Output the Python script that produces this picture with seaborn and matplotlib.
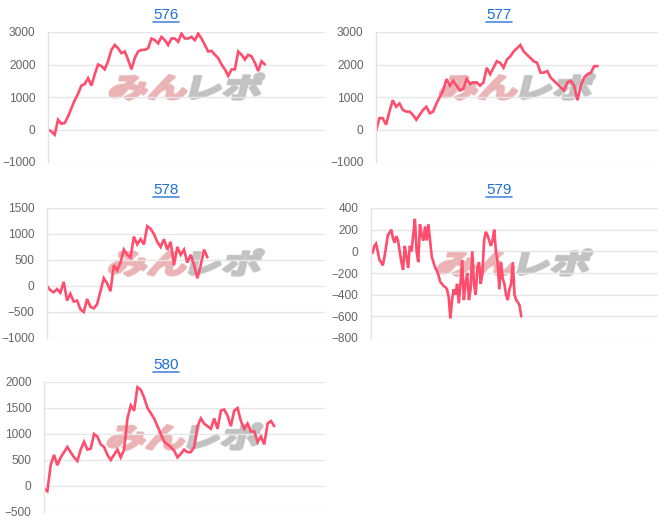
import numpy as np
import pandas as pd
import matplotlib
matplotlib.use("Agg")
import matplotlib.pyplot as plt
import seaborn as sns
from matplotlib.textpath import TextPath
from matplotlib.patches import PathPatch
from matplotlib.font_manager import FontProperties
from matplotlib.transforms import Affine2D
from matplotlib.lines import Line2D

# ---- data ----
titles = ["576", "577", "578", "579", "580"]

s576 = [0, -60, -160, 300, 180, 200, 400, 650, 900, 1100, 1350, 1400, 1580, 1350, 1700,
        2000, 1950, 1850, 2100, 2450, 2600, 2500, 2350, 2400, 2150, 1850, 2200, 2400, 2450,
        2450, 2500, 2800, 2750, 2650, 2850, 2750, 2600, 2800, 2800, 2700, 2950, 2800, 2800,
        2850, 2750, 2950, 2800, 2600, 2400, 2420, 2300, 2200, 2000, 1850, 1650, 1850, 1850,
        2400, 2300, 2150, 2300, 2250, 2050, 1800, 2100, 2000]

s577 = [-50, 350, 350, 150, 550, 900, 700, 800, 600, 550, 550, 450, 300, 450, 600, 700,
        500, 550, 800, 1000, 1200, 1550, 1350, 1500, 1350, 1200, 1250, 1550, 1400, 1450,
        1450, 1350, 1450, 1900, 1700, 1900, 2100, 2050, 1900, 2150, 2250, 2400, 2500, 2600,
        2400, 2300, 2200, 2100, 2050, 1750, 1750, 1800, 1600, 1500, 1400, 1300, 1200, 1450,
        1500, 1350, 900, 1350, 1600, 1700, 1750, 1950, 1950]

s578 = [0, -80, -120, -60, -130, 80, -280, -150, -300, -280, -450, -500, -250, -400, -430,
        -350, -100, 150, 50, -100, 400, 300, 450, 700, 600, 550, 950, 800, 900, 800, 1150,
        1100, 1000, 850, 750, 900, 700, 850, 400, 750, 600, 700, 450, 600, 400, 150, 400,
        700, 550]

s579 = [0, -10, 50, 70, 0, -80, -100, -130, -50, 50,
        150, 170, 200, 120, 80, 140, 100, 0, -100, -170,
        50, -50, -150, 50, 0, 150, 300, 0, -100, 250,
        150, 100, 230, 100, 250, 100, -50, -100, -150, -180,
        -220, -280, -300, -320, -330, -350, -420, -620, -450, -350,
        -400, -300, -480, -300, -80, -450, -300, -200, -450, -350,
        0, -300, -400, -150, -100, -300, -200, 100, 180, 150,
        100, 50, 100, 200, 0, -100, -350, -100, -250, -300,
        -400, -450, -350, -300, -100, -400, -450, -470, -500, -600]

s580 = [-50, -100, 400, 600, 400, 550, 650, 750, 650, 550, 480, 700, 850, 700, 720, 1000,
        950, 800, 750, 600, 500, 600, 700, 550, 700, 1300, 1550, 1450, 1900, 1850, 1700,
        1500, 1400, 1300, 1150, 1000, 850, 800, 750, 680, 550, 620, 700, 650, 650, 750,
        1150, 1300, 1200, 1150, 1100, 1300, 1100, 1450, 1470, 1350, 1150, 1450, 1500, 1250,
        1100, 1200, 1050, 1050, 850, 950, 800, 1200, 1250, 1150]

series = [s576, s577, s578, s579, s580]
y_limits = [(-1000, 3000), (-1000, 3000), (-1000, 1500), (-800, 400), (-500, 2000)]
y_steps = [1000, 1000, 500, 200, 500]
x_max = [83, 84, 83.2, 170, 84.2]

# ---- layout (pixels) ----
W, H = 666, 524
axes_px = [(48, 32, 277, 130), (376, 32, 282, 130), (47, 208, 278, 130),
           (371, 208, 287, 130), (44, 382, 281, 130)]
title_px = [(166, 15), (499, 15), (166, 190), (499, 190), (166, 365)]

sns.set_style("white")
plt.rcParams["font.family"] = ["Liberation Sans", "DejaVu Sans"]

fig = plt.figure(figsize=(W / 100, H / 100), dpi=100)
fig.patch.set_facecolor("white")

line_color = "#ff4d6d"
grid_color = "#e6e6e6"
fp_logo = FontProperties(family="Noto Sans CJK JP", weight="bold")


def add_watermark(ax_px):
    x0, ytop, w, h = ax_px
    cx = x0 + 0.5 * w
    cy = H - (ytop + 0.42 * h)
    p1 = TextPath((0, 0), "みん", size=1, prop=fp_logo)
    p2 = TextPath((0, 0), "レポ", size=1, prop=fp_logo)
    e1 = p1.get_extents()
    e2 = p2.get_extents()
    gap = 0.12
    total_w = (e1.x1 - e1.x0) + gap + (e2.x1 - e2.x0)
    ymid = 0.5 * (min(e1.y0, e2.y0) + max(e1.y1, e2.y1))
    sx, sy = 150 / total_w, 26 / (max(e1.y1, e2.y1) - min(e1.y0, e2.y0))
    start = -total_w / 2
    for p, e, col, off in [(p1, e1, "#eab1b3", start),
                           (p2, e2, "#c0c0c0", start + (e1.x1 - e1.x0) + gap)]:
        tr = (Affine2D().translate(-e.x0 + off, -ymid).scale(sx, sy)
              .skew_deg(14, 0).translate(cx, cy))
        patch = PathPatch(p, transform=tr, facecolor=col, edgecolor=col,
                          linewidth=2.2, joinstyle="round", alpha=0.9, zorder=1)
        fig.add_artist(patch)


title_texts = []
for i, (vals, title) in enumerate(zip(series, titles)):
    x0, ytop, w, h = axes_px[i]
    ax = fig.add_axes([x0 / W, 1 - (ytop + h) / H, w / W, h / H])
    ax.set_facecolor("none")
    ax.set_zorder(2)
    df = pd.DataFrame({"x": np.arange(len(vals)), "y": vals})
    sns.lineplot(data=df, x="x", y="y", ax=ax, color=line_color, linewidth=1.9,
                 solid_joinstyle="miter")
    lo, hi = y_limits[i]
    ax.set_ylim(lo, hi)
    ax.set_xlim(0, x_max[i])
    ax.set_yticks(np.arange(lo, hi + 1, y_steps[i]))
    ax.set_xticks([])
    ax.set_xlabel("")
    ax.set_ylabel("")
    ax.yaxis.grid(True, color=grid_color, linewidth=1)
    ax.set_axisbelow(True)
    for s in ["top", "right", "bottom"]:
        ax.spines[s].set_visible(False)
    ax.spines["left"].set_color("#e3e3e3")
    ax.spines["left"].set_linewidth(1)
    ax.tick_params(axis="y", length=7, width=1, color=grid_color,
                   labelcolor="#666666", labelsize=8.6, pad=2)
    add_watermark(axes_px[i])

    tx, ty = title_px[i]
    t = fig.text(tx / W, 1 - ty / H, title, ha="center", va="center",
                 fontsize=11, color="#1f6fd6")
    title_texts.append(t)

fig.canvas.draw()
r = fig.canvas.get_renderer()
for t in title_texts:
    bb = t.get_window_extent(r)
    yline = bb.y0
    fig.add_artist(Line2D([bb.x0 / W, bb.x1 / W], [yline / H, yline / H],
                          transform=fig.transFigure, color="#4a8ae0",
                          linewidth=1.2))

fig.savefig("out.png", dpi=100)
